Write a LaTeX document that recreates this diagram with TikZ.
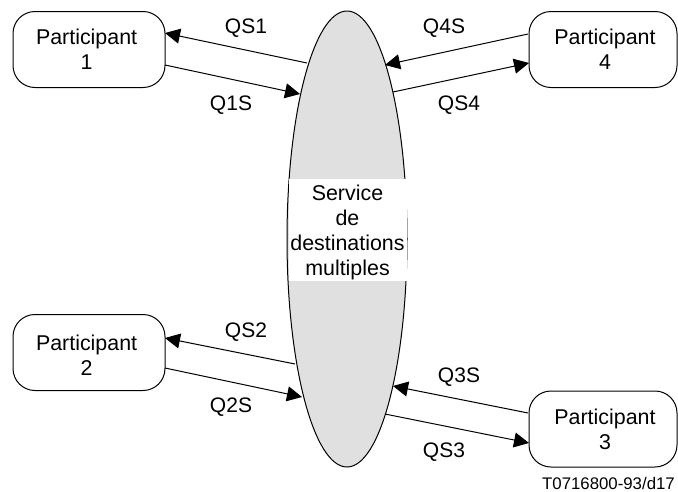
\documentclass[tikz,border=0pt]{standalone}
\usepackage{fontspec}
\setmainfont{Liberation Sans}
\usetikzlibrary{arrows.meta}
\tikzset{
  x=1pt,y=-1pt,
  party/.style={draw=black,line width=1pt,rounded corners=22pt,minimum width=#1,minimum height=76pt,inner sep=0pt},
  ptext/.style={inner sep=0pt,align=center,font=\fontsize{21.4}{25}\selectfont},
  service/.style={draw=black,line width=1pt,fill=black!12},
  whitebox/.style={fill=white,inner sep=0pt,minimum width=118pt,minimum height=102pt},
  flow/.style={draw=black,line width=1pt,-{Triangle[length=15pt,width=15pt]}},
  lab/.style={inner sep=0pt,font=\fontsize{21}{25}\selectfont},
}
\begin{document}
\begin{tikzpicture}
\useasboundingbox (0,0) rectangle (678,491);
\draw[service] (347,239) ellipse [x radius=60,y radius=228];
\node[whitebox,label={[ptext,yshift=-2pt]center:{Service\\de\\destinations\\multiples}}] (svc) at (347.5,230) {};
\node[party=152pt,label={[ptext,xshift=-2.4pt]center:{Participant\\1}}] (p1) at (89,49.5) {};
\node[party=148pt,label={[ptext,xshift=2pt]center:{Participant\\4}}] (p4) at (603,49.5) {};
\node[party=152pt,label={[ptext,xshift=-2.4pt,yshift=-2.5pt]center:{Participant\\2}}] (p2) at (89,352.5) {};
\node[party=148pt,label={[ptext,xshift=2pt]center:{Participant\\3}}] (p3) at (603,429) {};
\coordinate (a1) at (307,63); \coordinate (a2) at (165,33);
\coordinate (b1) at (165,65); \coordinate (b2) at (300,94);
\coordinate (c1) at (528,34); \coordinate (c2) at (385,65);
\coordinate (d1) at (393,92); \coordinate (d2) at (529,63);
\coordinate (e1) at (295,364); \coordinate (e2) at (165,338);
\coordinate (f1) at (165,368); \coordinate (f2) at (302,397);
\coordinate (g1) at (528,413); \coordinate (g2) at (393,386);
\coordinate (h1) at (385,414); \coordinate (h2) at (529,443);
\draw[flow] (a1) -- (a2);
\draw[flow] (b1) -- (b2);
\draw[flow] (c1) -- (c2);
\draw[flow] (d1) -- (d2);
\draw[flow] (e1) -- (e2);
\draw[flow] (f1) -- (f2);
\draw[flow] (g1) -- (g2);
\draw[flow] (h1) -- (h2);
\node[lab] (l1) at (246,28) {QS1};
\node[lab] (l2) at (231,105) {Q1S};
\node[lab] (l3) at (444,28) {Q4S};
\node[lab] (l4) at (459,105) {QS4};
\node[lab] (l5) at (246,332) {QS2};
\node[lab] (l6) at (231,407) {Q2S};
\node[lab] (l7) at (459,377) {Q3S};
\node[lab] (l8) at (444,452) {QS3};
\node[inner sep=0pt,anchor=east,font=\fontsize{16.8}{20}\selectfont] (tag) at (675,483) {T0716800-93/d17};
\end{tikzpicture}
\end{document}
